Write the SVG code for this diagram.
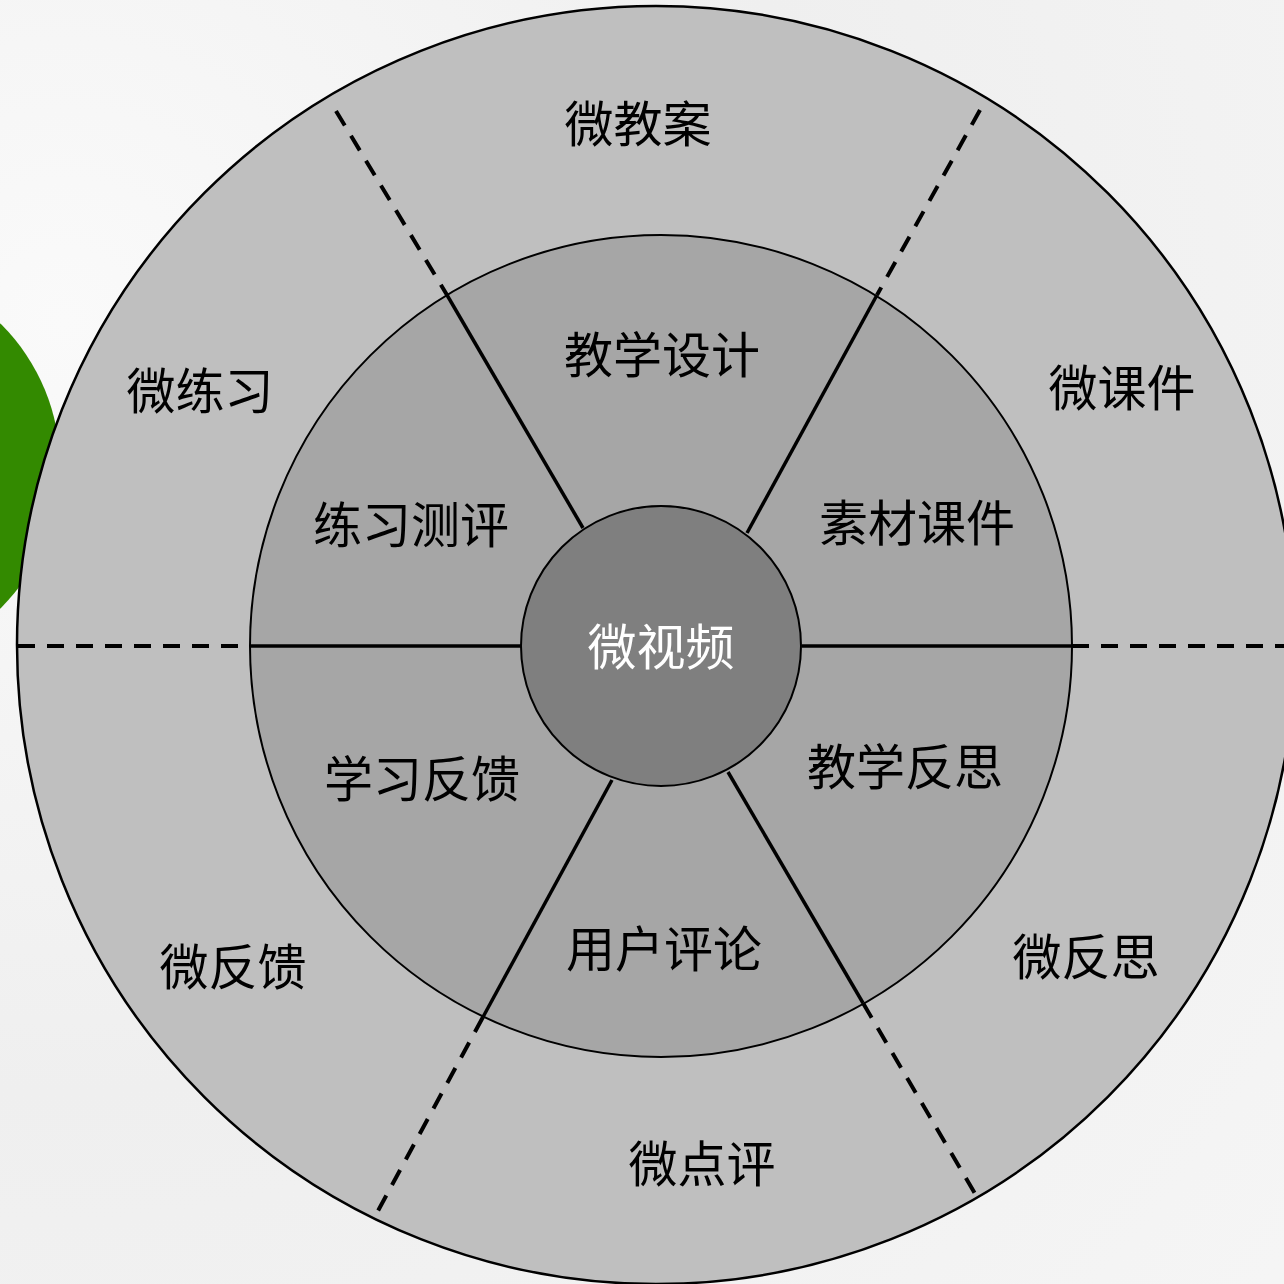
<svg xmlns="http://www.w3.org/2000/svg" width="1284" height="1284" viewBox="0 0 1284 1284">
<style>
.lbl{font-family:"Microsoft YaHei","Noto Sans CJK SC","Noto Sans",sans-serif;font-size:49px;fill:#000;text-anchor:middle;dominant-baseline:central}
.wht{fill:#fff}
.sol{stroke:#000;stroke-width:3.5;fill:none}
.dsh{stroke:#000;stroke-width:4;fill:none;stroke-dasharray:17 12}
</style>
<defs>
<radialGradient id="bg" cx="0.05" cy="0.25" r="1.2">
<stop offset="0" stop-color="#fafafa"/>
<stop offset="0.5" stop-color="#efefef"/>
<stop offset="1" stop-color="#f5f5f5"/>
</radialGradient>
</defs>
<rect width="1284" height="1284" fill="url(#bg)"/>
<circle cx="-140" cy="466" r="200" fill="#338a00"/>
<g id="outer-ring">
<circle cx="656" cy="645" r="639" fill="#bfbfbf" stroke="#000" stroke-width="2.5"/>
</g>
<g id="middle-ring">
<circle cx="661" cy="646" r="411" fill="#a6a6a6" stroke="#000" stroke-width="2"/>
</g>
<g id="connectors">
<line class="dsh" x1="18" y1="646" x2="250" y2="646"/>
<line class="dsh" x1="1072" y1="646" x2="1284" y2="646"/>
<line class="dsh" x1="336" y1="111" x2="447" y2="295"/>
<line class="dsh" x1="980" y1="110" x2="877" y2="295"/>
<line class="dsh" x1="483" y1="1017" x2="373" y2="1220"/>
<line class="dsh" x1="863" y1="1003" x2="980" y2="1202"/>
<line class="sol" x1="250" y1="646" x2="521" y2="646"/>
<line class="sol" x1="802" y1="646" x2="1072" y2="646"/>
<line class="sol" x1="447" y1="295" x2="583" y2="528"/>
<line class="sol" x1="877" y1="295" x2="747" y2="533"/>
<line class="sol" x1="612" y1="780" x2="483" y2="1017"/>
<line class="sol" x1="728" y1="772" x2="863" y2="1003"/>
</g>
<g id="center">
<circle cx="661" cy="646" r="140" fill="#7f7f7f" stroke="#000" stroke-width="2"/>
<text class="lbl wht" x="661" y="643">微视频</text>
</g>
<g id="n-jiaoxuesheji"><text class="lbl" x="662" y="351">教学设计</text></g>
<g id="n-lianxiceping"><text class="lbl" x="411" y="521">练习测评</text></g>
<g id="n-sucaikejian"><text class="lbl" x="917" y="519">素材课件</text></g>
<g id="n-xuexifankui"><text class="lbl" x="422" y="775">学习反馈</text></g>
<g id="n-jiaoxuefansi"><text class="lbl" x="905" y="763">教学反思</text></g>
<g id="n-yonghupinglun"><text class="lbl" x="664" y="945">用户评论</text></g>
<g id="n-weijiaoan"><text class="lbl" x="638" y="120">微教案</text></g>
<g id="n-weilianxi"><text class="lbl" x="200" y="387">微练习</text></g>
<g id="n-weikejian"><text class="lbl" x="1122" y="384">微课件</text></g>
<g id="n-weifankui"><text class="lbl" x="233" y="963">微反馈</text></g>
<g id="n-weifansi"><text class="lbl" x="1086" y="953">微反思</text></g>
<g id="n-weidianping"><text class="lbl" x="702" y="1160">微点评</text></g>
</svg>
